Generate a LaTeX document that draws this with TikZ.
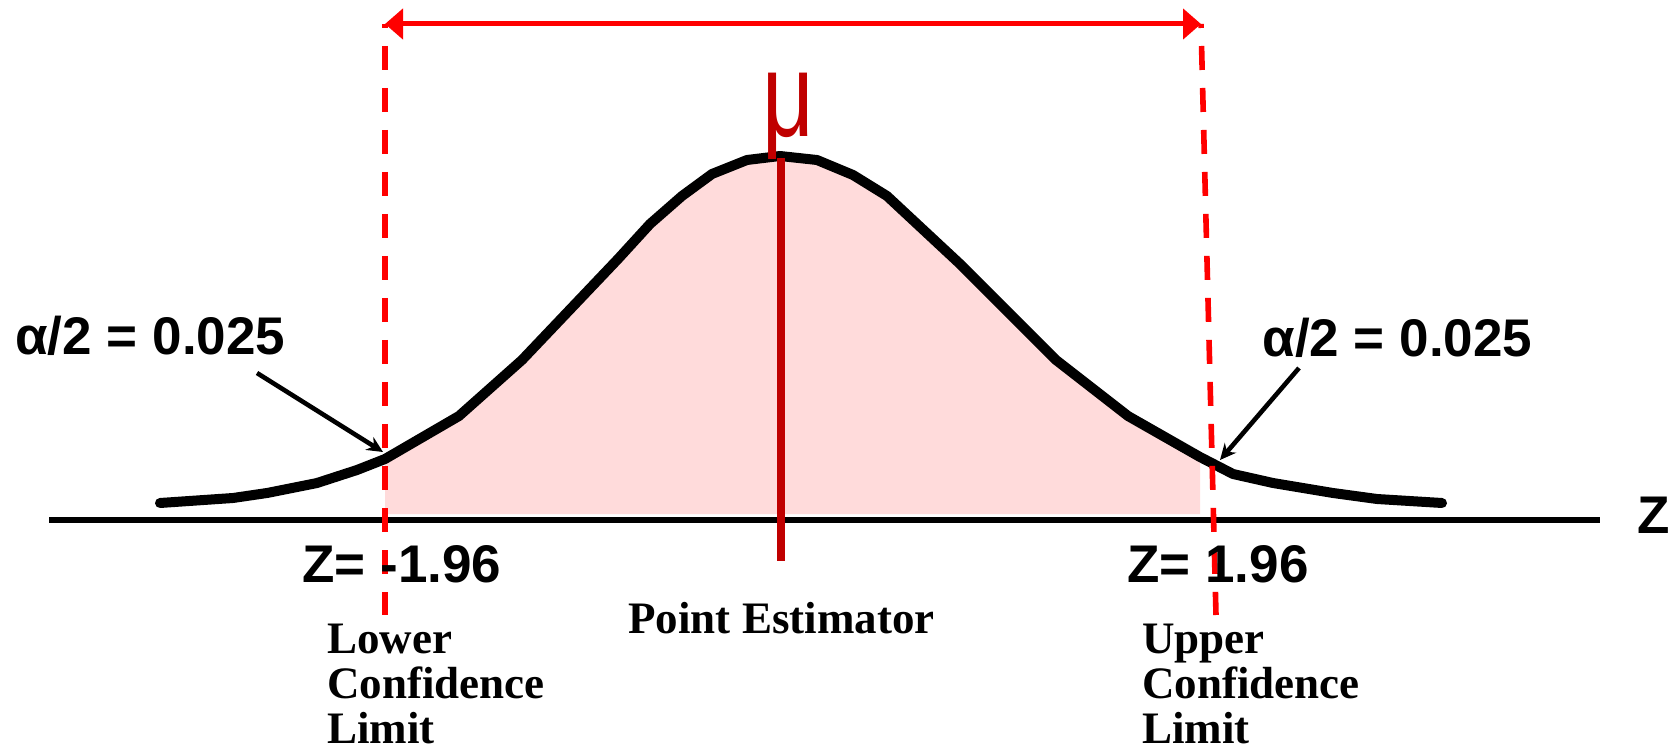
\documentclass[tikz,border=0pt]{standalone}
\usepackage{fontspec}
\setmainfont{Liberation Sans}
\newfontfamily\limitfont{Liberation Serif}
\usetikzlibrary{arrows.meta}
\definecolor{limitred}{HTML}{FF0000}
\definecolor{meanred}{HTML}{C00000}
\definecolor{areafill}{HTML}{FFDBDB}

\begin{document}
\begin{tikzpicture}[x=0.5pt,y=0.5pt,
  zlabel/.style={font=\fontsize{26.5}{30}\selectfont\bfseries,inner sep=0pt},
  limitlabel/.style={font=\limitfont\fontsize{22.5}{22.5}\selectfont\bfseries,align=left,inner sep=0pt},
  limitline/.style={limitred,line width=2.8pt,dash pattern=on 12pt off 9pt,dash phase=10pt},
  pointer/.style={line width=2.3pt,-{Stealth[length=8pt,width=7.5pt]}}]
  \useasboundingbox (0,0) rectangle (1672,751);

  % Area between the two limits
  \fill[areafill] (385,237) -- (385,292) -- (459,335) -- (522,391) -- (618,492) -- (650,527)
    -- (682,555) -- (712,577) -- (747,591) -- (780,595) -- (817,591) -- (853,576) -- (887,555)
    -- (960,487) -- (1056,391) -- (1128,335) -- (1200,294) -- (1200,237) -- cycle;

  % Z axis
  \draw[line width=2.8pt] (49,231) -- (1600,231);
  \node[zlabel,anchor=base west] (zaxis) at (1637,218) {Z};

  % Normal curve
  \draw[line width=5pt,line join=round,line cap=round] (160,248) -- (233,253) -- (267,258)
    -- (317,268) -- (357,281) -- (385,292) -- (459,335) -- (522,391) -- (618,492) -- (650,527)
    -- (682,555) -- (712,577) -- (747,591) -- (780,595) -- (817,591) -- (853,576) -- (887,555)
    -- (960,487) -- (1056,391) -- (1128,335) -- (1200,294) -- (1233,277) -- (1273,268)
    -- (1333,258) -- (1377,252) -- (1442,248);

  % Mean
  \coordinate (peak) at (781,593);
  \coordinate (meanfoot) at (781,190);
  \draw[meanred,line width=4pt] (peak) -- (meanfoot);
  \node[meanred,inner sep=0pt,anchor=base,font=\fontsize{60}{60}\selectfont] (mu) at (788,614)
    {\scalebox{0.75}[1]{μ}};

  % Confidence limits
  \coordinate (ltop) at (385,727);
  \coordinate (lbot) at (385,136);
  \coordinate (rtop) at (1201,727);
  \coordinate (rbot) at (1216,136);
  \draw[limitline] (ltop) -- (lbot);
  \draw[limitline] (rtop) -- (rbot);
  \draw[limitred,line width=2.5pt,{Triangle[length=9pt,width=15pt]}-{Triangle[length=9pt,width=15pt]}]
    (ltop) -- (rtop);

  % Tail areas
  \node[zlabel,anchor=base west] (lalpha) at (15,396) {α/2 = 0.025};
  \node[zlabel,anchor=base west] (ralpha) at (1262,394) {α/2 = 0.025};
  \coordinate (lfrom) at (257,378);
  \coordinate (lcut) at (383,299);
  \coordinate (rfrom) at (1299,383);
  \coordinate (rcut) at (1220,291);
  \draw[pointer] (lfrom) -- (lcut);
  \draw[pointer] (rfrom) -- (rcut);

  % Z values
  \node[zlabel,anchor=base west] (zlow) at (302,169) {Z= -1.96};
  \node[zlabel,anchor=base west] (zhigh) at (1127,169) {Z= 1.96};

  % Labels
  \node[limitlabel,anchor=base west] (estimator) at (628,118) {Point Estimator};
  \node[limitlabel,anchor=north west] (lowerlimit) at (327,127) {Lower\\Confidence\\Limit};
  \node[limitlabel,anchor=north west] (upperlimit) at (1142,127) {Upper\\Confidence\\Limit};
\end{tikzpicture}
\end{document}
